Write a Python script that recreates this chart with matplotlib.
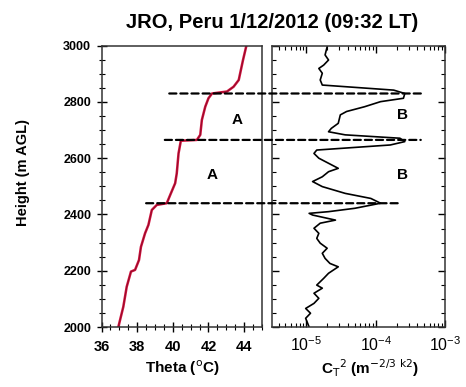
import numpy as np
import matplotlib.pyplot as plt
from matplotlib.patches import ConnectionPatch
from matplotlib.ticker import MultipleLocator, LogLocator, NullFormatter

plt.rcParams['font.family'] = ['Liberation Sans', 'DejaVu Sans']

# potential temperature profile
theta = [36.94, 37.22, 37.41, 37.65, 37.88, 38.10, 38.21, 38.44, 38.63, 38.82,
         39.10, 39.66, 39.85, 40.13, 40.22, 40.32, 40.45, 41.35, 41.54, 41.63,
         41.82, 42.00, 42.20, 43.04, 43.41, 43.70, 43.94, 44.13]
theta_h = [2000, 2072, 2143, 2197, 2203, 2238, 2285, 2333, 2363, 2416,
           2434, 2440, 2469, 2511, 2546, 2617, 2662, 2665, 2683, 2736,
           2783, 2813, 2830, 2837, 2854, 2878, 2949, 3000]

# CT2 profile (log10 values)
ct2_log = [-4.96, -5.01, -4.94, -5.01, -4.89, -4.82, -4.89, -4.77, -4.85, -4.75,
           -4.68, -4.54, -4.66, -4.73, -4.77, -4.70, -4.80, -4.85, -4.82, -4.89,
           -4.80, -4.58, -4.91, -4.96, -4.68, -4.30, -3.93, -4.07, -4.44, -4.77,
           -4.91, -4.77, -4.68, -4.54, -4.68, -4.82, -4.89, -4.85, -3.79, -3.58,
           -3.65, -4.44, -4.68, -4.64, -4.54, -4.51, -4.42, -4.16, -3.93, -3.60,
           -3.58, -3.74, -4.77, -4.80, -4.77, -4.82, -4.75, -4.68, -4.73, -4.70]
ct2_h = [2000, 2031, 2049, 2066, 2084, 2102, 2120, 2138, 2149, 2173,
         2191, 2214, 2226, 2244, 2262, 2280, 2298, 2315, 2333, 2351,
         2369, 2380, 2398, 2404, 2410, 2422, 2440, 2457, 2475, 2499,
         2517, 2534, 2552, 2564, 2582, 2600, 2617, 2629, 2647, 2659,
         2671, 2683, 2694, 2706, 2724, 2754, 2766, 2783, 2801, 2813,
         2830, 2842, 2860, 2878, 2902, 2919, 2931, 2949, 2967, 2996]

# dashed layer boundaries: height, start theta, end log10(CT2)
layer_h = [2830, 2665, 2440]
layer_start = [39.8, 39.55, 38.5]
layer_end = [-3.3, -3.35, -3.65]

labels_a = [(43.6, 2736), (42.2, 2540)]
labels_b = [(-3.62, 2754), (-3.62, 2540)]

fig = plt.figure(figsize=(4.66, 3.87), dpi=100)
ax1 = fig.add_axes([0.218, 0.155, 0.344, 0.727])
ax2 = fig.add_axes([0.583, 0.155, 0.372, 0.727])

ax1.plot(theta, theta_h, color='#d0103c', lw=1.8, solid_joinstyle='round')
ax1.plot(theta, theta_h, color='#4a0a18', lw=0.5, alpha=0.6)
ax1.set_xlim(36, 45)
ax1.set_ylim(2000, 3000)
ax1.xaxis.set_major_locator(MultipleLocator(2))
ax1.xaxis.set_minor_locator(MultipleLocator(0.5))
ax1.yaxis.set_major_locator(MultipleLocator(200))
ax1.yaxis.set_minor_locator(MultipleLocator(50))
ax1.tick_params(which='both', direction='inout', top=False, right=False)
ax1.tick_params(which='major', length=7, width=1)
ax1.tick_params(which='minor', length=4, width=0.8)
ax1.tick_params(axis='x', labelsize=10.5, pad=6)
ax1.tick_params(axis='y', labelsize=9, pad=4)
for t in ax1.get_yticklabels() + ax1.get_xticklabels():
    t.set_fontweight('bold')

ct2 = [10 ** v for v in ct2_log]
ax2.plot(ct2, ct2_h, color='black', lw=1.2)
ax2.set_xscale('log')
ax2.set_xlim(10 ** -5.5, 1e-3)
ax2.set_ylim(2000, 3000)
ax2.xaxis.set_major_locator(LogLocator(base=10, numticks=10))
ax2.xaxis.set_minor_locator(LogLocator(base=10, subs=np.arange(2, 10), numticks=10))
ax2.xaxis.set_minor_formatter(NullFormatter())
ax2.yaxis.set_major_locator(MultipleLocator(200))
ax2.yaxis.set_minor_locator(MultipleLocator(50))
ax2.tick_params(which='both', direction='in', top=True, right=True, labelleft=False)
ax2.tick_params(which='major', length=5, width=1)
ax2.tick_params(which='minor', length=3, width=0.8)
ax2.tick_params(axis='x', labelsize=11.5, pad=6)

for ax in (ax1, ax2):
    for s in ax.spines.values():
        s.set_linewidth(1.1)
        s.set_color('#333333')

for h, x0, x1 in zip(layer_h, layer_start, layer_end):
    con = ConnectionPatch(xyA=(x0, h), coordsA=ax1.transData,
                          xyB=(10 ** x1, h), coordsB=ax2.transData,
                          color='black', lw=1.6, linestyle=(0, (3.2, 1.8)))
    fig.add_artist(con)

for x, y in labels_a:
    ax1.text(x, y, 'A', fontsize=11, fontweight='bold', ha='center', va='center')
for x, y in labels_b:
    ax2.text(10 ** x, y, 'B', fontsize=11, fontweight='bold', ha='center', va='center')

fig.text(0.585, 0.943, 'JRO, Peru 1/12/2012 (09:32 LT)', fontsize=14.5,
         fontweight='bold', ha='center', va='center')
fig.text(0.05, 0.555, 'Height (m AGL)', fontsize=10.5, fontweight='bold',
         rotation=90, ha='center', va='center')
fig.text(0.392, 0.048, 'Theta ($^{\\rm o}$C)', fontsize=11, fontweight='bold',
         ha='center', va='center')
fig.text(0.795, 0.048, 'C$_{\\rm T}$$^{\\rm 2}$ (m$^{\\rm {-}2/3\\ k2}$)', fontsize=11,
         fontweight='bold', ha='center', va='center')

fig.savefig('out.png', dpi=100)
